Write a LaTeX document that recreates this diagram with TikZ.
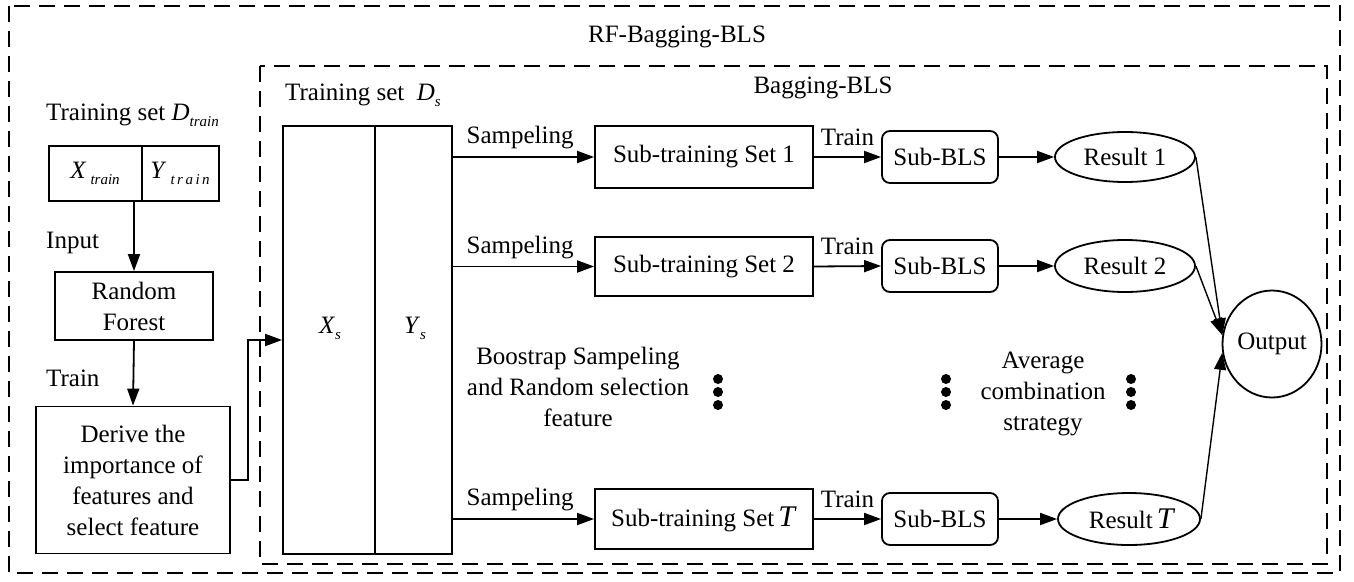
\documentclass[tikz,border=0pt]{standalone}
\usepackage{fontspec}
\setmainfont{LiberationSerif}[Extension=.ttf,UprightFont=*-Regular,ItalicFont=*-Italic,BoldFont=*-Bold,BoldItalicFont=*-BoldItalic]
\usetikzlibrary{arrows.meta,shapes.geometric,calc}
\newcommand{\mysub}[1]{\raisebox{-6pt}{\fontsize{15}{15}\selectfont\itshape #1}}
\begin{document}
\begin{tikzpicture}[x=1pt,y=-1pt,
  every node/.style={font=\fontsize{25}{31}\selectfont},
  box/.style={draw,line width=1.8pt,inner sep=0pt,align=center},
  rbox/.style={box,rounded corners=8pt},
  ell/.style={draw,line width=1.8pt,ellipse,inner sep=0pt},
  arr/.style={line width=1.8pt,-{Triangle[length=17pt,width=12pt]}},
  frame/.style={line width=2.4pt,dash pattern=on 16pt off 9pt},
  lbl/.style={inner sep=0pt,align=center},
  dotc/.style={fill=black,draw=none,circle,inner sep=0pt,minimum size=10pt}]
\useasboundingbox (0,0) rectangle (1354,581);
% frames
\draw[frame] (9,6) rectangle (1340,573);
\draw[frame] (260,66) rectangle (1327,564);
\node[lbl] (title) at (677,37) {RF-Bagging-BLS};
\node[lbl] (bagtitle) at (823,88) {Bagging-BLS};
\node[lbl,anchor=west] (dstitle) at (285,95) {Training set\enspace\textit{D}\mysub{s}};
\node[lbl,anchor=west] (dtrtitle) at (46,115) {Training set \textit{D}\mysub{train}};
% left column
\node[box,minimum width=170pt,minimum height=55pt] (dtr) at (134,173.5) {};
\draw[line width=1.8pt] (142,146) -- (142,201);
\node[lbl] (xtr) at (95,173) {\textit{X}\,\mysub{train}};
\node[lbl] (ytr) at (180,173) {\textit{Y}\,\mysub{t\,r\,a\,i\,n}};
\node[box,minimum width=158pt,minimum height=68pt] (rf) at (134,306) {Random\\Forest};
\node[box,minimum width=194pt,minimum height=147pt] (der) at (133,480) {Derive the\\importance of\\features and\\select feature};
\node[lbl,anchor=west] (inlbl) at (46,243) {Input};
\node[lbl,anchor=west] (trlbl) at (46,378) {Train};
\draw[arr] (dtr.south) -- (rf.north);
\draw[arr] (rf.south) -- (der.north);
% table
\node[box,minimum width=169pt,minimum height=428pt] (tab) at (367.5,340) {};
\draw[line width=1.8pt] (375,126) -- (375,554);
\node[lbl] (xs) at (330,328) {\textit{X}\mysub{s}};
\node[lbl] (ys) at (415,328) {\textit{Y}\mysub{s}};
\draw[arr] (der.east) -- ++(17,0) |- (tab.west);
% sub training sets
\node[box,minimum width=218pt,minimum height=62pt] (s1) at (704,157) {Sub-training Set 1};
\node[box,minimum width=218pt,minimum height=59pt] (s2) at (704,266.5) {Sub-training Set 2};
\node[box,minimum width=218pt,minimum height=60pt] (sT) at (704,519) {Sub-training Set\,\fontsize{30}{31}\selectfont\textit{T}};
\foreach \s in {s1,s2,sT}{
  \draw[arr] (tab.east |- \s.west) -- (\s.west);
  \node[lbl] at ($(\s.west)+(-74,-19)$) {Sampeling};
}
% sub-BLS
\node[rbox,minimum width=116pt,minimum height=52pt] (b1) at (940,157) {Sub-BLS};
\node[rbox,minimum width=116pt,minimum height=52pt] (b2) at (940,266) {Sub-BLS};
\node[rbox,minimum width=116pt,minimum height=52pt] (bT) at (940,519) {Sub-BLS};
\foreach \s/\b in {s1/b1,s2/b2,sT/bT}{
  \draw[arr] (\s.east) -- (\b.west);
  \node[lbl] at ($(\s.east)!0.5!(\b.west)+(0,-20)$) {Train};
}
% results
\node[ell,minimum width=140pt,minimum height=50pt] (r1) at (1125,157) {Result 1};
\node[ell,minimum width=140pt,minimum height=52pt] (r2) at (1125,266) {Result 2};
\node[ell,minimum width=142pt,minimum height=52pt] (rT) at (1129,519) {\ Result\,\fontsize{30}{31}\selectfont\textit{T}};
\draw[arr] (b1.east) -- (r1.west);
\draw[arr] (b2.east) -- (r2.west);
\draw[arr] (bT.east) -- (rT.west);
\node[ell,minimum width=99pt,minimum height=107pt] (out) at (1272,344) {Output};
\draw[arr,line width=1.4pt] (r1.east) -- (out.170);
\draw[arr,line width=1.4pt] (r2.east) -- (out.170);
\draw[arr,line width=1.4pt] (rT.east) -- (out.190);
% texts and dots
\node[lbl] (boot) at (578,387) {Boostrap Sampeling\\and Random selection\\feature};
\node[lbl] (avg) at (1043,394) {Average\\combination\\strategy};
\foreach \x [count=\i] in {718,946,1131}{
  \node[dotc] (d\i a) at (\x,379) {};
  \node[dotc] (d\i b) at (\x,392) {};
  \node[dotc] (d\i c) at (\x,405) {};
}
\end{tikzpicture}
\end{document}
